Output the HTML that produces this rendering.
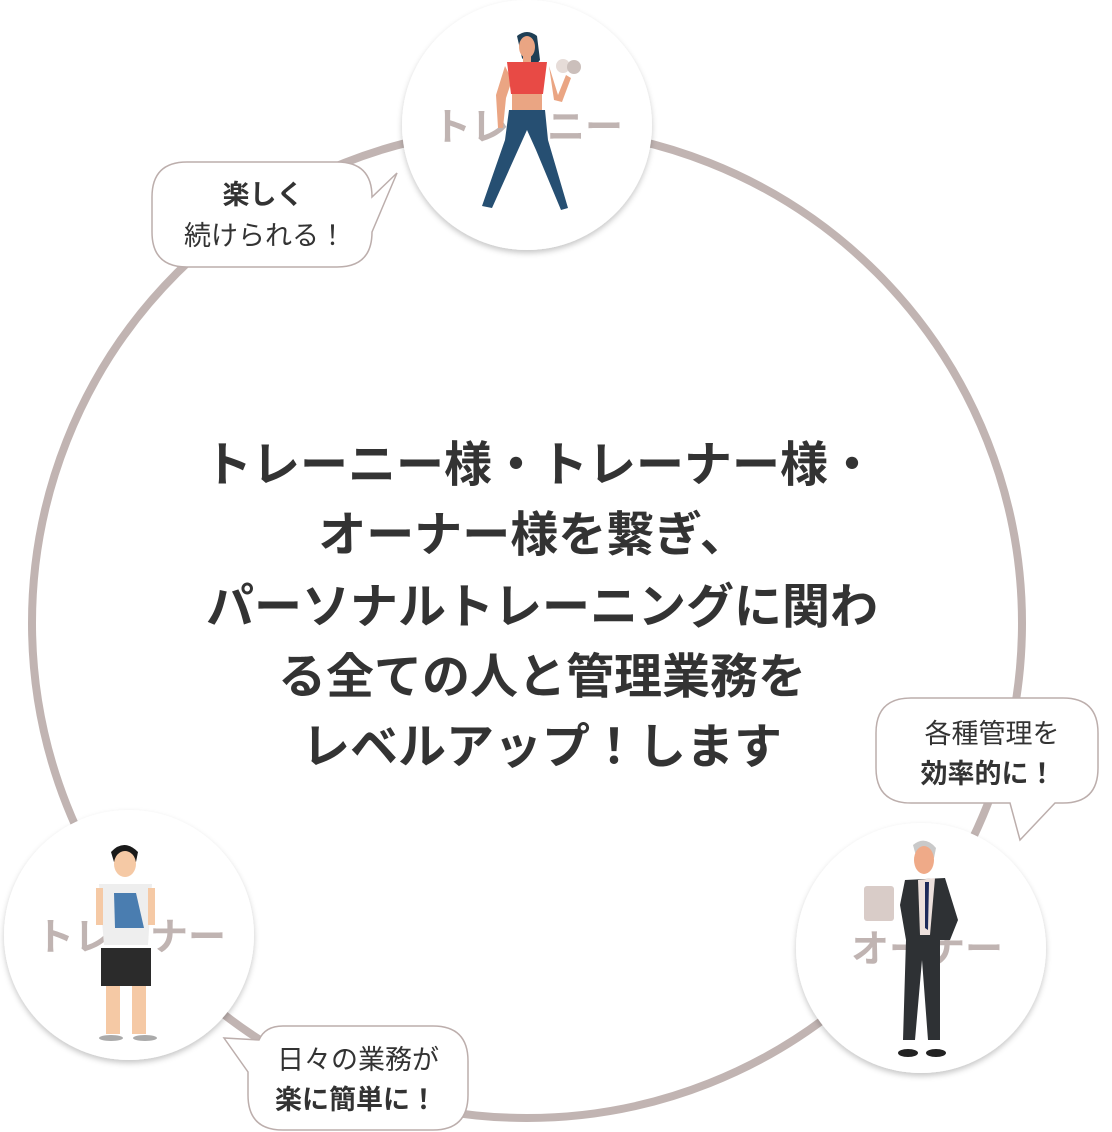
<!DOCTYPE html>
<html><head><meta charset="utf-8"><style>
html,body{margin:0;padding:0;background:#fff}
svg{display:block}
text{font-family:"Liberation Sans","Noto Sans CJK JP",sans-serif}
</style></head><body>
<svg width="1112" height="1132" viewBox="0 0 1112 1132" xmlns="http://www.w3.org/2000/svg">
<defs>
<filter id="sh" x="-20%" y="-20%" width="140%" height="140%"><feDropShadow dx="0" dy="3" stdDeviation="3" flood-color="#000" flood-opacity="0.22"/></filter>
</defs>
<circle cx="527" cy="623" r="495" fill="none" stroke="#c1b4b2" stroke-width="8"/>

<path d="M187,162 L337,162 Q372,162 372,197 L397,173 L372,232 Q372,267 337,267 L187,267 Q152,267 152,232 L152,197 Q152,162 187,162 Z" fill="#fff" stroke="#bcaeac" stroke-width="1.5"/>
<text x="263" y="204" font-size="27" font-weight="bold" fill="#333" text-anchor="middle">楽しく</text>
<text x="265" y="245" font-size="27" fill="#333" text-anchor="middle">続けられる！</text>

<path d="M911,698 L1063,698 Q1098,698 1098,733 L1098,768 Q1098,803 1063,803 L1055,803 L1020,840 L1010,803 L911,803 Q876,803 876,768 L876,733 Q876,698 911,698 Z" fill="#fff" stroke="#bcaeac" stroke-width="1.5"/>
<text x="992" y="743" font-size="27" fill="#333" text-anchor="middle">各種管理を</text>
<text x="988" y="783" font-size="27" font-weight="bold" fill="#333" text-anchor="middle">効率的に！</text>

<path d="M283,1026 L433,1026 Q468,1026 468,1061 L468,1095 Q468,1130 433,1130 L283,1130 Q248,1130 248,1095 L248,1072 L224,1038 L259,1040 Q265,1026 283,1026 Z" fill="#fff" stroke="#bcaeac" stroke-width="1.5"/>
<text x="358" y="1069" font-size="27" fill="#333" text-anchor="middle">日々の業務が</text>
<text x="356" y="1109" font-size="27" font-weight="bold" fill="#333" text-anchor="middle">楽に簡単に！</text>

<circle cx="527" cy="125" r="125" fill="#fff" filter="url(#sh)"/>
<circle cx="129" cy="935" r="125" fill="#fff" filter="url(#sh)"/>
<circle cx="921" cy="948" r="125" fill="#fff" filter="url(#sh)"/>

<text x="528" y="140" font-size="38" font-weight="bold" fill="#c0b4b2" text-anchor="middle">トレーニー</text>
<text x="131" y="950" font-size="38" font-weight="bold" fill="#c0b4b2" text-anchor="middle">トレーナー</text>
<text x="927" y="962" font-size="38" font-weight="bold" fill="#c0b4b2" text-anchor="middle">オーナー</text>

<g>
<path d="M517,36 Q527,28 537,36 L540,60 L532,70 L522,58 Z" fill="#1f3f55"/>
<ellipse cx="527" cy="47" rx="8" ry="11" fill="#eaa583"/>
<rect x="523" y="55" width="8" height="8" fill="#eaa583"/>
<path d="M505,66 L496,95 L498,128 L503,128 L506,98 L512,80 Z" fill="#eaa583"/>
<path d="M549,66 L558,95 L566,75 L571,78 L562,102 L554,100 Z" fill="#eaa583"/>
<path d="M507,62 L547,62 L543,94 L511,94 Z" fill="#e84a45"/>
<rect x="512" y="94" width="30" height="16" fill="#eaa583"/>
<path d="M509,110 L545,110 L548,140 L568,208 L561,210 L536,150 L527,130 L518,150 L492,208 L482,206 L505,140 Z" fill="#264f72"/>
<circle cx="563" cy="66" r="7" fill="#e6dcd8"/><circle cx="574" cy="67" r="7" fill="#cbbfbb"/>
</g>

<g>
<path d="M111,852 Q124,838 138,852 L136,862 L114,862 Z" fill="#1a1a1a"/>
<ellipse cx="125" cy="864" rx="11" ry="13" fill="#f5c9a5"/>
<path d="M99,884 L152,884 L148,945 L104,945 Z" fill="#eeeeee"/>
<path d="M96,888 L103,888 L103,925 L96,925 Z" fill="#f5c9a5"/>
<path d="M148,888 L155,888 L155,925 L148,925 Z" fill="#f5c9a5"/>
<path d="M114,893 L136,893 L144,928 L115,928 Z" fill="#4a7db0"/>
<rect x="101" y="948" width="50" height="38" fill="#2b2b2b"/>
<rect x="106" y="986" width="14" height="48" fill="#f5c9a5"/>
<rect x="132" y="986" width="14" height="48" fill="#f5c9a5"/>
<ellipse cx="111" cy="1038" rx="12" ry="3" fill="#aaa"/><ellipse cx="145" cy="1038" rx="12" ry="3" fill="#aaa"/>
</g>

<g>
<path d="M913,845 Q925,835 936,848 L934,858 L916,856 Z" fill="#c9c9c9"/>
<ellipse cx="924" cy="860" rx="10" ry="14" fill="#efaa88"/>
<path d="M905,880 L945,878 L958,920 L950,940 L940,940 L940,1040 L928,1040 L922,960 L915,1040 L903,1040 L906,940 L900,905 Z" fill="#2e3134"/>
<path d="M918,880 L935,878 L930,935 L920,935 Z" fill="#ece0dc"/>
<path d="M925,882 L929,882 L928,930 L925,928 Z" fill="#1d2a5a"/>
<rect x="864" y="886" width="30" height="35" rx="3" fill="#d9ccc8"/>
<ellipse cx="908" cy="1053" rx="10" ry="4" fill="#222"/><ellipse cx="936" cy="1053" rx="10" ry="4" fill="#222"/>
</g>

<g font-size="48" font-weight="bold" fill="#333" text-anchor="middle">
<text x="540" y="481">トレーニー様・トレーナー様・</text>
<text x="533" y="551">オーナー様を繋ぎ、</text>
<text x="542" y="623">パーソナルトレーニングに関わ</text>
<text x="542" y="693">る全ての人と管理業務を</text>
<text x="542" y="763">レベルアップ！します</text>
</g>
</svg>
</body></html>
